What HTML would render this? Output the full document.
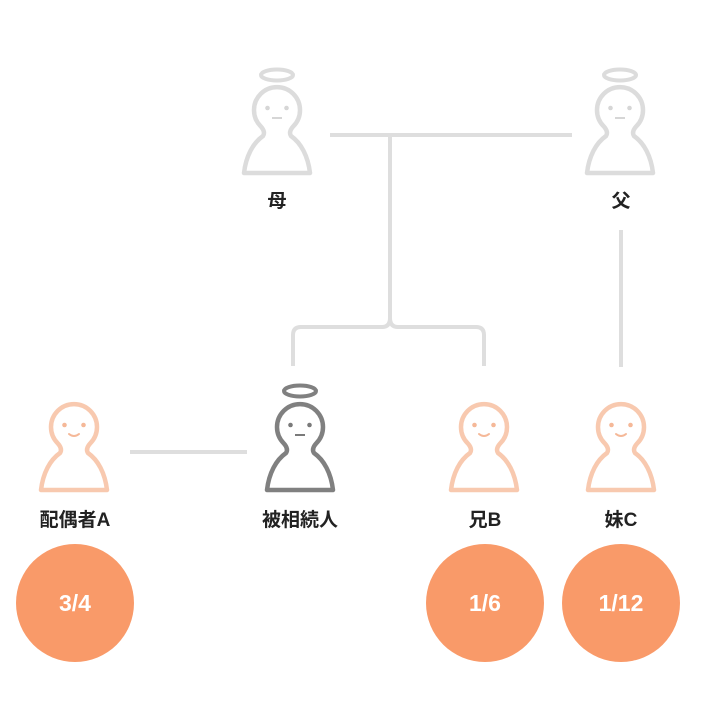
<!DOCTYPE html>
<html>
<head>
<meta charset="utf-8">
<style>
html,body{margin:0;padding:0;background:#fff;}
svg{display:block;}
.lbl{font-family:"Liberation Sans","Noto Sans CJK JP",sans-serif;font-weight:bold;font-size:19px;fill:#222;}
.num{font-family:"Liberation Sans","Noto Sans CJK JP",sans-serif;font-weight:bold;font-size:23px;fill:#fff;}
</style>
</head>
<body>
<svg width="720" height="720" viewBox="0 0 720 720" xmlns="http://www.w3.org/2000/svg">
<defs>
  <path id="body" d="M -16.3,16.3 A 23 23 0 1 1 16.3,16.3 C 13,20 12,23 14,26 C 24,33 31,46 33,63 L -33,63 C -31,46 -24,33 -14,26 C -12,23 -13,20 -16.3,16.3 Z"/>
</defs>

<!-- connector lines -->
<g fill="none" stroke="#DEDEDE" stroke-width="4" stroke-linecap="butt">
  <line x1="330" y1="135" x2="572" y2="135"/>
  <path d="M 390,135 L 390,318 Q 390,327 382,327 L 301,327 Q 293,327 293,335 L 293,366"/>
  <path d="M 390,318 Q 390,327 398,327 L 476,327 Q 484,327 484,335 L 484,366"/>
  <line x1="621" y1="230" x2="621" y2="367"/>
  <line x1="130" y1="452" x2="247" y2="452"/>
</g>

<!-- 母 -->
<g transform="translate(277,110)">
  <ellipse cx="0" cy="-35" rx="16" ry="5.5" fill="none" stroke="#DCDCDC" stroke-width="4"/>
  <use href="#body" fill="none" stroke="#DCDCDC" stroke-width="4.5" stroke-linejoin="round"/>
  <circle cx="-9.5" cy="-2" r="2.3" fill="#D6D6D6"/>
  <circle cx="9.5" cy="-2" r="2.3" fill="#D6D6D6"/>
  <line x1="-5" y1="8" x2="5" y2="8" stroke="#D6D6D6" stroke-width="2"/>
</g>
<text class="lbl" x="277" y="207" text-anchor="middle">母</text>

<!-- 父 -->
<g transform="translate(620,110)">
  <ellipse cx="0" cy="-35" rx="16" ry="5.5" fill="none" stroke="#DCDCDC" stroke-width="4"/>
  <use href="#body" fill="none" stroke="#DCDCDC" stroke-width="4.5" stroke-linejoin="round"/>
  <circle cx="-9.5" cy="-2" r="2.3" fill="#D6D6D6"/>
  <circle cx="9.5" cy="-2" r="2.3" fill="#D6D6D6"/>
  <line x1="-5" y1="8" x2="5" y2="8" stroke="#D6D6D6" stroke-width="2"/>
</g>
<text class="lbl" x="621" y="207" text-anchor="middle">父</text>

<!-- 被相続人 -->
<g transform="translate(300,427)">
  <ellipse cx="0" cy="-36" rx="16" ry="5.5" fill="none" stroke="#808080" stroke-width="4"/>
  <use href="#body" fill="none" stroke="#808080" stroke-width="4.5" stroke-linejoin="round"/>
  <circle cx="-9.5" cy="-2" r="2.3" fill="#7A7A7A"/>
  <circle cx="9.5" cy="-2" r="2.3" fill="#7A7A7A"/>
  <line x1="-5" y1="8" x2="5" y2="8" stroke="#7A7A7A" stroke-width="2"/>
</g>
<text class="lbl" x="300" y="526" text-anchor="middle">被相続人</text>

<!-- 配偶者A -->
<g transform="translate(74,427)">
  <use href="#body" fill="none" stroke="#F8C9AF" stroke-width="4.5" stroke-linejoin="round"/>
  <circle cx="-9.5" cy="-2" r="2.3" fill="#F5B898"/>
  <circle cx="9.5" cy="-2" r="2.3" fill="#F5B898"/>
  <path d="M -5,7 Q 0,11 5,7" fill="none" stroke="#F5B898" stroke-width="2" stroke-linecap="round"/>
</g>
<text class="lbl" x="75" y="526" text-anchor="middle">配偶者A</text>

<!-- 兄B -->
<g transform="translate(484,427)">
  <use href="#body" fill="none" stroke="#F8C9AF" stroke-width="4.5" stroke-linejoin="round"/>
  <circle cx="-9.5" cy="-2" r="2.3" fill="#F5B898"/>
  <circle cx="9.5" cy="-2" r="2.3" fill="#F5B898"/>
  <path d="M -5,7 Q 0,11 5,7" fill="none" stroke="#F5B898" stroke-width="2" stroke-linecap="round"/>
</g>
<text class="lbl" x="485" y="526" text-anchor="middle">兄B</text>

<!-- 妹C -->
<g transform="translate(621,427)">
  <use href="#body" fill="none" stroke="#F8C9AF" stroke-width="4.5" stroke-linejoin="round"/>
  <circle cx="-9.5" cy="-2" r="2.3" fill="#F5B898"/>
  <circle cx="9.5" cy="-2" r="2.3" fill="#F5B898"/>
  <path d="M -5,7 Q 0,11 5,7" fill="none" stroke="#F5B898" stroke-width="2" stroke-linecap="round"/>
</g>
<text class="lbl" x="621" y="526" text-anchor="middle">妹C</text>

<!-- share circles -->
<circle cx="75" cy="603" r="59" fill="#F99A69"/>
<circle cx="485" cy="603" r="59" fill="#F99A69"/>
<circle cx="621" cy="603" r="59" fill="#F99A69"/>
<text class="num" x="75" y="611" text-anchor="middle">3/4</text>
<text class="num" x="485" y="611" text-anchor="middle">1/6</text>
<text class="num" x="621" y="611" text-anchor="middle">1/12</text>
</svg>
</body>
</html>
